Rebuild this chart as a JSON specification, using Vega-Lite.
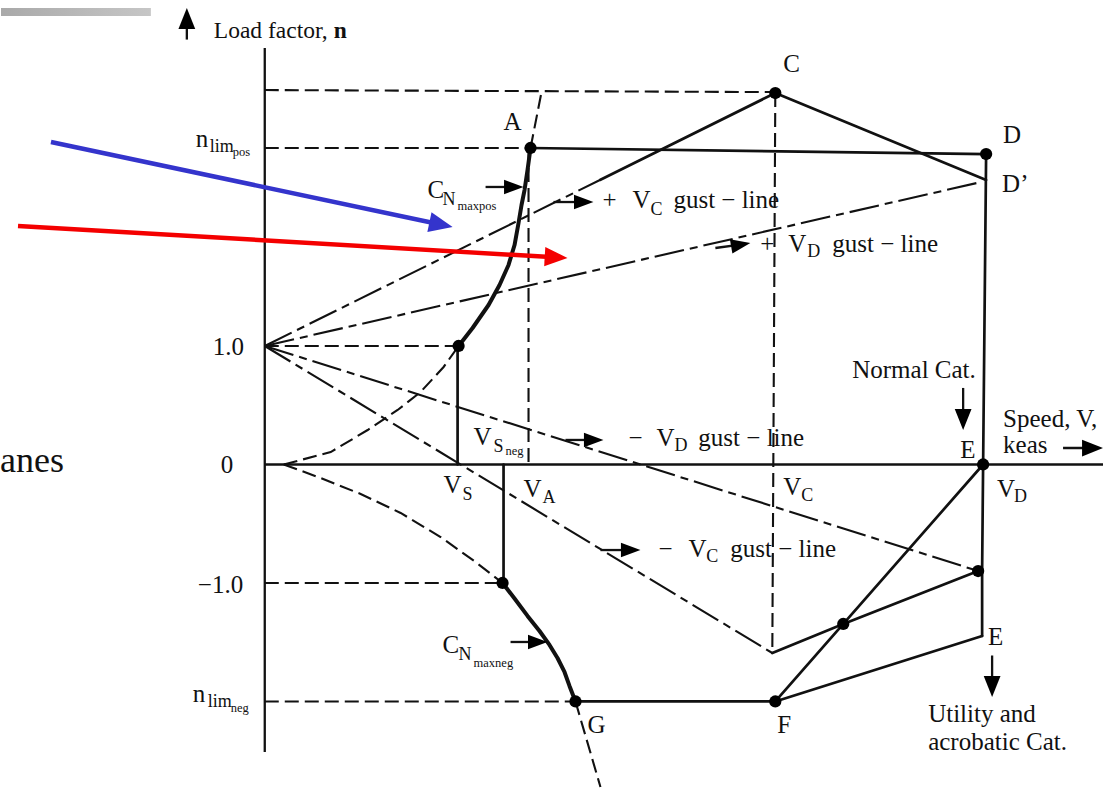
{
  "$schema": "https://vega.github.io/schema/vega-lite/v6.json",
  "width": 1115,
  "height": 792,
  "autosize": {"type": "fit", "contains": "padding"},
  "padding": 0,
  "background": "white",
  "config": {"view": {"stroke": null}},
  "datasets": {
    "bar": [{"V": -132, "V2": -57, "n": 3.852, "n2": 3.785}],
    "lines": [
      {"id": "ax1", "k": "axis", "o": 0, "V": 0, "n": 3.515},
      {"id": "ax1", "k": "axis", "o": 1, "V": 0, "n": -2.426},
      {"id": "ax2", "k": "axis", "o": 0, "V": 0, "n": 0},
      {"id": "ax2", "k": "axis", "o": 1, "V": 419.5, "n": 0},

      {"id": "e1", "k": "env", "o": 0, "V": 133, "n": 2.671},
      {"id": "e1", "k": "env", "o": 1, "V": 361, "n": 2.62},
      {"id": "e2", "k": "env", "o": 0, "V": 361, "n": 2.62},
      {"id": "e2", "k": "env", "o": 1, "V": 359.5, "n": 0},
      {"id": "e2", "k": "env", "o": 2, "V": 359, "n": -0.899},
      {"id": "e2", "k": "env", "o": 3, "V": 359, "n": -1.447},
      {"id": "e3", "k": "env", "o": 0, "V": 255.5, "n": 3.135},
      {"id": "e3", "k": "env", "o": 1, "V": 361, "n": 2.401},
      {"id": "e4", "k": "env", "o": 0, "V": 168, "n": 2.403},
      {"id": "e4", "k": "env", "o": 1, "V": 255.5, "n": 3.135},
      {"id": "e5", "k": "env", "o": 0, "V": 254, "n": -1.591},
      {"id": "e5", "k": "env", "o": 1, "V": 289.5, "n": -1.346},
      {"id": "e5", "k": "env", "o": 2, "V": 357, "n": -0.899},
      {"id": "e6", "k": "env", "o": 0, "V": 255.5, "n": -2.0},
      {"id": "e6", "k": "env", "o": 1, "V": 359.5, "n": 0},
      {"id": "e7", "k": "env", "o": 0, "V": 255.5, "n": -2.0},
      {"id": "e7", "k": "env", "o": 1, "V": 359, "n": -1.447},
      {"id": "e8", "k": "env", "o": 0, "V": 155.5, "n": -2.0},
      {"id": "e8", "k": "env", "o": 1, "V": 255.5, "n": -2.0},
      {"id": "e9", "k": "env", "o": 0, "V": 96.5, "n": 1.0},
      {"id": "e9", "k": "env", "o": 1, "V": 96.5, "n": 0},
      {"id": "e10", "k": "env", "o": 0, "V": 119.5, "n": 0},
      {"id": "e10", "k": "env", "o": 1, "V": 119.5, "n": -1.0},

      {"id": "c1", "k": "curve", "o": 0, "V": 97, "n": 1.0},
      {"id": "c1", "k": "curve", "o": 1, "V": 104, "n": 1.152},
      {"id": "c1", "k": "curve", "o": 2, "V": 112, "n": 1.346},
      {"id": "c1", "k": "curve", "o": 3, "V": 117.5, "n": 1.515},
      {"id": "c1", "k": "curve", "o": 4, "V": 122, "n": 1.684},
      {"id": "c1", "k": "curve", "o": 5, "V": 125, "n": 1.852},
      {"id": "c1", "k": "curve", "o": 6, "V": 127, "n": 2.038},
      {"id": "c1", "k": "curve", "o": 7, "V": 128.5, "n": 2.19},
      {"id": "c1", "k": "curve", "o": 8, "V": 130, "n": 2.316},
      {"id": "c1", "k": "curve", "o": 9, "V": 131.5, "n": 2.485},
      {"id": "c1", "k": "curve", "o": 10, "V": 133, "n": 2.671},
      {"id": "c2", "k": "curve", "o": 0, "V": 119, "n": -1.0},
      {"id": "c2", "k": "curve", "o": 1, "V": 125, "n": -1.131},
      {"id": "c2", "k": "curve", "o": 2, "V": 131.5, "n": -1.278},
      {"id": "c2", "k": "curve", "o": 3, "V": 137.5, "n": -1.405},
      {"id": "c2", "k": "curve", "o": 4, "V": 142.5, "n": -1.523},
      {"id": "c2", "k": "curve", "o": 5, "V": 146.5, "n": -1.633},
      {"id": "c2", "k": "curve", "o": 6, "V": 150, "n": -1.751},
      {"id": "c2", "k": "curve", "o": 7, "V": 152.5, "n": -1.869},
      {"id": "c2", "k": "curve", "o": 8, "V": 155.5, "n": -2.0},

      {"id": "g1", "k": "gust", "o": 0, "V": 0, "n": 1.0},
      {"id": "g1", "k": "gust", "o": 1, "V": 168, "n": 2.403},
      {"id": "g2", "k": "gust", "o": 0, "V": 0, "n": 1.0},
      {"id": "g2", "k": "gust", "o": 1, "V": 356.5, "n": 2.376},
      {"id": "g3", "k": "gust", "o": 0, "V": 0, "n": 1.0},
      {"id": "g3", "k": "gust", "o": 1, "V": 357, "n": -0.899},
      {"id": "g4", "k": "gust", "o": 0, "V": 0, "n": 1.0},
      {"id": "g4", "k": "gust", "o": 1, "V": 254, "n": -1.591},

      {"id": "d1", "k": "guide", "o": 0, "V": 9.5, "n": 0},
      {"id": "d1", "k": "guide", "o": 1, "V": 33, "n": 0.105},
      {"id": "d1", "k": "guide", "o": 2, "V": 51.5, "n": 0.291},
      {"id": "d1", "k": "guide", "o": 3, "V": 66.5, "n": 0.46},
      {"id": "d1", "k": "guide", "o": 4, "V": 78, "n": 0.612},
      {"id": "d1", "k": "guide", "o": 5, "V": 89.5, "n": 0.823},
      {"id": "d1", "k": "guide", "o": 6, "V": 97, "n": 1.0},
      {"id": "d2", "k": "guide", "o": 0, "V": 133, "n": 2.671},
      {"id": "d2", "k": "guide", "o": 1, "V": 138.5, "n": 3.143},
      {"id": "d3", "k": "guide", "o": 0, "V": 9.5, "n": 0},
      {"id": "d3", "k": "guide", "o": 1, "V": 28, "n": -0.114},
      {"id": "d3", "k": "guide", "o": 2, "V": 48, "n": -0.249},
      {"id": "d3", "k": "guide", "o": 3, "V": 68, "n": -0.409},
      {"id": "d3", "k": "guide", "o": 4, "V": 88, "n": -0.612},
      {"id": "d3", "k": "guide", "o": 5, "V": 105.5, "n": -0.823},
      {"id": "d3", "k": "guide", "o": 6, "V": 119, "n": -1.0},
      {"id": "d4", "k": "guide", "o": 0, "V": 155.5, "n": -2.0},
      {"id": "d4", "k": "guide", "o": 1, "V": 168, "n": -2.722},
      {"id": "d5", "k": "guide", "o": 0, "V": 132, "n": 2.671},
      {"id": "d5", "k": "guide", "o": 1, "V": 132, "n": 0},
      {"id": "d6", "k": "guide", "o": 0, "V": 255.5, "n": 3.135},
      {"id": "d6", "k": "guide", "o": 1, "V": 254, "n": -1.591},
      {"id": "d7", "k": "guide", "o": 0, "V": 0, "n": 1.0},
      {"id": "d7", "k": "guide", "o": 1, "V": 97, "n": 1.0},
      {"id": "d8", "k": "guide", "o": 0, "V": 0, "n": 3.16},
      {"id": "d8", "k": "guide", "o": 1, "V": 253, "n": 3.143},
      {"id": "d9", "k": "guide", "o": 0, "V": 0, "n": 2.671},
      {"id": "d9", "k": "guide", "o": 1, "V": 133, "n": 2.671},
      {"id": "d10", "k": "guide", "o": 0, "V": 0, "n": -1.0},
      {"id": "d10", "k": "guide", "o": 1, "V": 119, "n": -1.0},
      {"id": "d11", "k": "guide", "o": 0, "V": 0, "n": -2.0},
      {"id": "d11", "k": "guide", "o": 1, "V": 155.5, "n": -2.0},

      {"id": "s1", "k": "shaft", "o": 0, "V": -39, "n": 3.751},
      {"id": "s1", "k": "shaft", "o": 1, "V": -39, "n": 3.586},
      {"id": "s2", "k": "shaft", "o": 0, "V": 144.5, "n": 2.215},
      {"id": "s2", "k": "shaft", "o": 1, "V": 160, "n": 2.215},
      {"id": "s3", "k": "shaft", "o": 0, "V": 225.5, "n": 1.827},
      {"id": "s3", "k": "shaft", "o": 1, "V": 238, "n": 1.855},
      {"id": "s4", "k": "shaft", "o": 0, "V": 150.5, "n": 0.207},
      {"id": "s4", "k": "shaft", "o": 1, "V": 165, "n": 0.207},
      {"id": "s5", "k": "shaft", "o": 0, "V": 168, "n": -0.722},
      {"id": "s5", "k": "shaft", "o": 1, "V": 183.5, "n": -0.722},
      {"id": "s6", "k": "shaft", "o": 0, "V": 110.5, "n": 2.342},
      {"id": "s6", "k": "shaft", "o": 1, "V": 125, "n": 2.342},
      {"id": "s7", "k": "shaft", "o": 0, "V": 123, "n": -1.498},
      {"id": "s7", "k": "shaft", "o": 1, "V": 137, "n": -1.498},
      {"id": "s8", "k": "shaft", "o": 0, "V": 349.5, "n": 0.646},
      {"id": "s8", "k": "shaft", "o": 1, "V": 349.5, "n": 0.34},
      {"id": "s9", "k": "shaft", "o": 0, "V": 364, "n": -1.612},
      {"id": "s9", "k": "shaft", "o": 1, "V": 364, "n": -1.91},
      {"id": "s10", "k": "shaft", "o": 0, "V": 399.5, "n": 0.139},
      {"id": "s10", "k": "shaft", "o": 1, "V": 416, "n": 0.139},

      {"id": "b1", "k": "blue", "o": 0, "V": -107, "n": 2.722},
      {"id": "b1", "k": "blue", "o": 1, "V": 88, "n": 2.026},
      {"id": "r1", "k": "red", "o": 0, "V": -123.5, "n": 2.013},
      {"id": "r1", "k": "red", "o": 1, "V": 143, "n": 1.751}
    ],
    "dots": [
      {"p": "A", "V": 133, "n": 2.671},
      {"p": "C", "V": 255.5, "n": 3.135},
      {"p": "D", "V": 361, "n": 2.62},
      {"p": "stall", "V": 97, "n": 1.0},
      {"p": "E", "V": 359.5, "n": 0},
      {"p": "neg VD gust", "V": 357, "n": -0.899},
      {"p": "cross", "V": 289.5, "n": -1.346},
      {"p": "F", "V": 255.5, "n": -2.0},
      {"p": "G", "V": 155.5, "n": -2.0},
      {"p": "neg stall", "V": 119, "n": -1.0}
    ],
    "heads": [
      {"k": "big", "V": -39, "n": 3.852, "dir": 270},
      {"k": "big", "V": 349.5, "n": 0.291, "dir": 90},
      {"k": "big", "V": 364, "n": -1.962, "dir": 90},
      {"k": "big", "V": 419.5, "n": 0.139, "dir": 0},
      {"k": "small", "V": 164.5, "n": 2.215, "dir": 0},
      {"k": "small", "V": 243, "n": 1.869, "dir": -10},
      {"k": "small", "V": 169.5, "n": 0.207, "dir": 0},
      {"k": "small", "V": 188, "n": -0.722, "dir": 0},
      {"k": "small", "V": 129.5, "n": 2.342, "dir": 0},
      {"k": "small", "V": 141.5, "n": -1.498, "dir": 0},
      {"k": "blue", "V": 94, "n": 2.004, "dir": 11.9},
      {"k": "red", "V": 151.5, "n": 1.743, "dir": 3.3}
    ],
    "labels": [
      {"t": "axis", "s": "Load factor, ", "V": -25.5, "n": 3.599},
      {"t": "axisb", "s": "n", "V": 34.5, "n": 3.599},
      {"t": "main", "s": "A", "V": 119.5, "n": 2.823},
      {"t": "main", "s": "C", "V": 259.5, "n": 3.312},
      {"t": "main", "s": "D", "V": 369.5, "n": 2.713},
      {"t": "main", "s": "D’", "V": 369, "n": 2.3},
      {"t": "main", "s": "n", "V": -34.5, "n": 2.679},
      {"t": "sub", "s": "lim", "V": -27.5, "n": 2.637},
      {"t": "subsub", "s": "pos", "V": -16, "n": 2.603},
      {"t": "main", "s": "C", "V": 81.5, "n": 2.249},
      {"t": "sub", "s": "N", "V": 89, "n": 2.19},
      {"t": "subsub", "s": "maxpos", "V": 96.5, "n": 2.148},
      {"t": "main", "s": "+", "V": 169, "n": 2.165},
      {"t": "main", "s": "V", "V": 184, "n": 2.165},
      {"t": "sub", "s": "C", "V": 193, "n": 2.105},
      {"t": "main", "s": "gust − line", "V": 204.5, "n": 2.165},
      {"t": "main", "s": "+", "V": 248, "n": 1.793},
      {"t": "main", "s": "V", "V": 262, "n": 1.793},
      {"t": "sub", "s": "D", "V": 271.5, "n": 1.751},
      {"t": "main", "s": "gust − line", "V": 284, "n": 1.793},
      {"t": "main", "s": "1.0", "V": -26, "n": 0.924},
      {"t": "main", "s": "0", "V": -22, "n": -0.072},
      {"t": "main", "s": "−1.0", "V": -33.5, "n": -1.084},
      {"t": "main", "s": "n", "V": -36, "n": -2.004},
      {"t": "sub", "s": "lim", "V": -28.5, "n": -2.046},
      {"t": "subsub", "s": "neg", "V": -17, "n": -2.089},
      {"t": "main", "s": "V", "V": 104.5, "n": 0.165},
      {"t": "sub", "s": "S", "V": 114.5, "n": 0.105},
      {"t": "subsub", "s": "neg", "V": 120.5, "n": 0.08},
      {"t": "main", "s": "V", "V": 89.5, "n": -0.241},
      {"t": "sub", "s": "S", "V": 99, "n": -0.3},
      {"t": "main", "s": "V", "V": 129.5, "n": -0.274},
      {"t": "sub", "s": "A", "V": 139, "n": -0.325},
      {"t": "main", "s": "V", "V": 259.5, "n": -0.257},
      {"t": "sub", "s": "C", "V": 268.5, "n": -0.308},
      {"t": "main", "s": "V", "V": 366.5, "n": -0.274},
      {"t": "sub", "s": "D", "V": 375, "n": -0.316},
      {"t": "main", "s": "−", "V": 182, "n": 0.156},
      {"t": "main", "s": "V", "V": 196, "n": 0.156},
      {"t": "sub", "s": "D", "V": 205, "n": 0.114},
      {"t": "main", "s": "gust − line", "V": 217, "n": 0.156},
      {"t": "main", "s": "−", "V": 197, "n": -0.781},
      {"t": "main", "s": "V", "V": 212, "n": -0.781},
      {"t": "sub", "s": "C", "V": 221, "n": -0.823},
      {"t": "main", "s": "gust − line", "V": 233, "n": -0.781},
      {"t": "main", "s": "Normal Cat.", "V": 294, "n": 0.73},
      {"t": "main", "s": "E", "V": 348, "n": 0.055},
      {"t": "main", "s": "Speed, V,", "V": 369.5, "n": 0.316},
      {"t": "main", "s": "keas", "V": 369.5, "n": 0.097},
      {"t": "main", "s": "E", "V": 362, "n": -1.523},
      {"t": "main", "s": "Utility and", "V": 332, "n": -2.173},
      {"t": "main", "s": "acrobatic Cat.", "V": 332, "n": -2.409},
      {"t": "main", "s": "F", "V": 256.5, "n": -2.266},
      {"t": "main", "s": "G", "V": 161.5, "n": -2.266},
      {"t": "main", "s": "C", "V": 89, "n": -1.591},
      {"t": "sub", "s": "N", "V": 97, "n": -1.65},
      {"t": "subsub", "s": "maxneg", "V": 104.5, "n": -1.709},
      {"t": "slide", "s": "anes", "V": -132.5, "n": -0.063}
    ]
  },
  "encoding": {
    "x": {"field": "V", "type": "quantitative", "scale": {"domain": [-132, 425.5], "nice": false, "zero": false}, "axis": null},
    "y": {"field": "n", "type": "quantitative", "scale": {"domain": [-2.764, 3.92], "nice": false, "zero": false}, "axis": null}
  },
  "layer": [
    {
      "data": {"name": "bar"},
      "mark": {"type": "rect", "color": {"gradient": "linear", "x1": 0, "x2": 1, "y1": 0, "y2": 0, "stops": [{"offset": 0, "color": "#a9a9a9"}, {"offset": 1, "color": "#c6c6c6"}]}},
      "encoding": {"x2": {"field": "V2"}, "y2": {"field": "n2"}}
    },
    {
      "data": {"name": "lines"},
      "transform": [{"filter": "datum.k === 'guide'"}],
      "mark": {"type": "line", "color": "#111", "strokeWidth": 2.1, "strokeDash": [14, 6]},
      "encoding": {"detail": {"field": "id"}, "order": {"field": "o"}}
    },
    {
      "data": {"name": "lines"},
      "transform": [{"filter": "datum.k === 'gust'"}],
      "mark": {"type": "line", "color": "#111", "strokeWidth": 2.1, "strokeDash": [30, 6, 8, 6]},
      "encoding": {"detail": {"field": "id"}, "order": {"field": "o"}}
    },
    {
      "data": {"name": "lines"},
      "transform": [{"filter": "datum.k === 'env'"}],
      "mark": {"type": "line", "color": "#111", "strokeWidth": 2.7, "strokeCap": "round", "strokeJoin": "round"},
      "encoding": {"detail": {"field": "id"}, "order": {"field": "o"}}
    },
    {
      "data": {"name": "lines"},
      "transform": [{"filter": "datum.k === 'curve'"}],
      "mark": {"type": "line", "color": "#111", "strokeWidth": 4, "strokeCap": "round", "strokeJoin": "round"},
      "encoding": {"detail": {"field": "id"}, "order": {"field": "o"}}
    },
    {
      "data": {"name": "lines"},
      "transform": [{"filter": "datum.k === 'axis' || datum.k === 'shaft'"}],
      "mark": {"type": "line", "color": "#111", "strokeWidth": 2.3},
      "encoding": {"detail": {"field": "id"}, "order": {"field": "o"}}
    },
    {
      "data": {"name": "lines"},
      "transform": [{"filter": "datum.k === 'blue'"}],
      "mark": {"type": "line", "color": "#3434cc", "strokeWidth": 4.5},
      "encoding": {"detail": {"field": "id"}, "order": {"field": "o"}}
    },
    {
      "data": {"name": "lines"},
      "transform": [{"filter": "datum.k === 'red'"}],
      "mark": {"type": "line", "color": "#f40000", "strokeWidth": 4.5},
      "encoding": {"detail": {"field": "id"}, "order": {"field": "o"}}
    },
    {
      "data": {"name": "dots"},
      "mark": {"type": "point", "shape": "circle", "filled": true, "size": 150, "color": "#000", "opacity": 1}
    },
    {
      "data": {"name": "heads"},
      "transform": [{"filter": "datum.k === 'big'"}],
      "mark": {"type": "point", "shape": "M0,0L-2,-0.8L-2,0.8Z", "filled": true, "size": 440, "color": "#000", "opacity": 1, "strokeWidth": 0},
      "encoding": {"angle": {"field": "dir", "type": "quantitative", "scale": null}}
    },
    {
      "data": {"name": "heads"},
      "transform": [{"filter": "datum.k === 'small'"}],
      "mark": {"type": "point", "shape": "M0,0L-2,-0.75L-2,0.75Z", "filled": true, "size": 380, "color": "#000", "opacity": 1, "strokeWidth": 0},
      "encoding": {"angle": {"field": "dir", "type": "quantitative", "scale": null}}
    },
    {
      "data": {"name": "heads"},
      "transform": [{"filter": "datum.k === 'blue'"}],
      "mark": {"type": "point", "shape": "M0,0L-2,-0.85L-2,0.85Z", "filled": true, "size": 560, "color": "#3434cc", "opacity": 1, "strokeWidth": 0},
      "encoding": {"angle": {"field": "dir", "type": "quantitative", "scale": null}}
    },
    {
      "data": {"name": "heads"},
      "transform": [{"filter": "datum.k === 'red'"}],
      "mark": {"type": "point", "shape": "M0,0L-2,-0.85L-2,0.85Z", "filled": true, "size": 520, "color": "#f40000", "opacity": 1, "strokeWidth": 0},
      "encoding": {"angle": {"field": "dir", "type": "quantitative", "scale": null}}
    },
    {
      "data": {"name": "labels"},
      "transform": [{"filter": "datum.t === 'main'"}],
      "mark": {"type": "text", "align": "left", "baseline": "alphabetic", "font": "Liberation Serif", "fontSize": 25, "color": "#111"},
      "encoding": {"text": {"field": "s"}}
    },
    {
      "data": {"name": "labels"},
      "transform": [{"filter": "datum.t === 'sub'"}],
      "mark": {"type": "text", "align": "left", "baseline": "alphabetic", "font": "Liberation Serif", "fontSize": 18, "color": "#111"},
      "encoding": {"text": {"field": "s"}}
    },
    {
      "data": {"name": "labels"},
      "transform": [{"filter": "datum.t === 'subsub'"}],
      "mark": {"type": "text", "align": "left", "baseline": "alphabetic", "font": "Liberation Serif", "fontSize": 12.5, "color": "#111"},
      "encoding": {"text": {"field": "s"}}
    },
    {
      "data": {"name": "labels"},
      "transform": [{"filter": "datum.t === 'axis'"}],
      "mark": {"type": "text", "align": "left", "baseline": "alphabetic", "font": "Liberation Serif", "fontSize": 23.5, "color": "#111"},
      "encoding": {"text": {"field": "s"}}
    },
    {
      "data": {"name": "labels"},
      "transform": [{"filter": "datum.t === 'axisb'"}],
      "mark": {"type": "text", "align": "left", "baseline": "alphabetic", "font": "Liberation Serif", "fontSize": 23.5, "fontWeight": "bold", "color": "#111"},
      "encoding": {"text": {"field": "s"}}
    },
    {
      "data": {"name": "labels"},
      "transform": [{"filter": "datum.t === 'slide'"}],
      "mark": {"type": "text", "align": "left", "baseline": "alphabetic", "font": "Liberation Serif", "fontSize": 36, "color": "#111"},
      "encoding": {"text": {"field": "s"}}
    }
  ]
}
